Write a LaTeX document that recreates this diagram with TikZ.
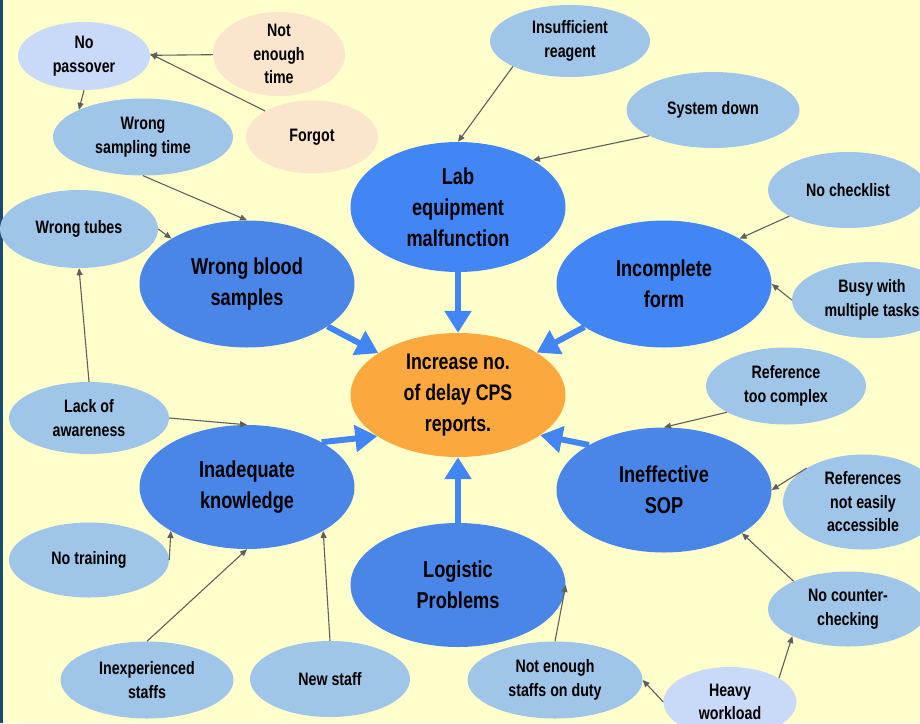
\documentclass[tikz,border=0pt]{standalone}
\usepackage{fontspec}
\setmainfont{Liberation Sans}[FakeStretch=0.79]
\usepackage{tikz}
\usetikzlibrary{shapes.geometric,arrows.meta}
\definecolor{paper}{HTML}{FFFFCC}
\definecolor{edgeblue}{HTML}{1C4A72}
\definecolor{rootorange}{HTML}{FBA83F}
\definecolor{mainblue}{HTML}{4A86E8}
\definecolor{brightblue}{HTML}{4285F4}
\definecolor{causeblue}{HTML}{9FC5E8}
\definecolor{paleblue}{HTML}{C9DAF8}
\definecolor{peach}{HTML}{FCE5CD}
\definecolor{linegray}{HTML}{5F5F5F}
\tikzset{
    root-box/.style = {ellipse, fill=rootorange, inner sep=0pt, minimum width=215pt, minimum height=124pt, align=center, font=\fontsize{22.5}{31}\selectfont\bfseries},
    main-box/.style = {ellipse, fill=mainblue, inner sep=0pt, minimum width=215pt, minimum height=127pt, align=center, font=\fontsize{23}{31}\selectfont\bfseries},
    cause-box/.style = {ellipse, fill=causeblue, inner sep=0pt, minimum width=160pt, minimum height=76pt, align=center, font=\fontsize{18}{23.5}\selectfont\bfseries},
    thick-arrow/.style = {draw=brightblue, line width=6pt, -{Triangle[length=22pt,width=26pt]}},
    thin-arrow/.style = {draw=linegray, line width=1.1pt, -{Triangle[length=7pt,width=6pt]}},
}
\begin{document}
\begin{tikzpicture}[x=1pt,y=-1pt]
\useasboundingbox (0,0) rectangle (920,723);
\clip (0,0) rectangle (920,723);
\fill[paper] (0,0) rectangle (920,723);
\fill[edgeblue] (0,0) rectangle (3,723);

\node[root-box] (root) at (458,395) {Increase no.\\of delay CPS\\reports.};

\node[main-box] (blood) at (247,284) {Wrong blood\\samples};
\node[main-box, fill=brightblue, minimum height=130pt] (lab) at (458,207) {Lab\\equipment\\malfunction};
\node[main-box, fill=brightblue] (form) at (664,284) {Incomplete\\form};
\node[main-box, minimum height=124pt] (know) at (247,487) {Inadequate\\knowledge};
\node[main-box, minimum height=125pt] (sop) at (664,490) {Ineffective\\SOP};
\node[main-box, minimum height=124pt] (logistic) at (458,585) {Logistic\\Problems};

\node[cause-box, fill=paleblue, minimum width=132pt, minimum height=68pt] (passover) at (84,56) {No\\passover};
\node[cause-box, fill=peach, minimum width=132pt, minimum height=72pt] (time) at (279,54) {Not\\enough\\time};
\node[cause-box, fill=peach, minimum width=132pt, minimum height=73pt] (forgot) at (312,137) {Forgot};
\node[cause-box, minimum width=180pt, minimum height=77pt] (sampling) at (143,137) {Wrong\\sampling time};
\node[cause-box, minimum width=158pt, minimum height=78pt] (tubes) at (79,229) {Wrong tubes};
\node[cause-box, minimum height=72pt] (awareness) at (89,418) {Lack of\\awareness};
\node[cause-box, minimum height=75pt] (training) at (89,560) {No training};
\node[cause-box, minimum width=173pt, minimum height=77pt] (inexp) at (147,680) {Inexperienced\\staffs};
\node[cause-box] (newstaff) at (330,679) {New staff};

\node[cause-box, minimum height=72pt] (reagent) at (570,41) {Insufficient\\reagent};
\node[cause-box, minimum width=173pt] (sysdown) at (713,110) {System down};
\node[cause-box] (checklist) at (848,190) {No checklist};
\node[cause-box] (busy) at (872,300) {Busy with\\multiple tasks};
\node[cause-box, minimum height=77pt] (refcomplex) at (786,386) {Reference\\too complex};
\node[cause-box, minimum height=95pt] (refaccess) at (863,502) {References\\not easily\\accessible};
\node[cause-box, minimum height=75pt] (counter) at (848,609) {No counter-\\checking};
\node[cause-box, fill=paleblue, minimum width=133pt, minimum height=70pt] (heavy) at (730,702) {Heavy\\workload};
\node[cause-box, minimum width=175pt, minimum height=77pt] (staffs) at (555,680) {Not enough\\staffs on duty};

\draw[thick-arrow] (lab) -- (root);
\draw[thick-arrow] (blood) -- (root);
\draw[thick-arrow] (form) -- (root);
\draw[thick-arrow] (know.31) -- (root.207);
\draw[thick-arrow] (sop.149) -- (root.334);
\draw[thick-arrow] (logistic) -- (root);

\draw[thin-arrow] (time) -- (passover);
\draw[thin-arrow] (forgot.151) -- (passover.2);
\draw[thin-arrow] (passover.south) -- (sampling.157);
\draw[thin-arrow] (sampling.south) -- (blood.north);
\draw[thin-arrow] (tubes.east) -- (blood.149);
\draw[thin-arrow] (awareness.north) -- (tubes.south);
\draw[thin-arrow] (awareness.east) -- (know.north);
\draw[thin-arrow] (training.east) -- (know.210);
\draw[thin-arrow] (inexp.north) -- (know.south);
\draw[thin-arrow] (newstaff.north) -- (know.330);

\draw[thin-arrow] (reagent.204) -- (lab.north);
\draw[thin-arrow] (sysdown.202) -- (lab.32);
\draw[thin-arrow] (checklist.204) -- (form.31);
\draw[thin-arrow] (busy.west) -- (form.east);
\draw[thin-arrow] (refcomplex.204) -- (sop.north);
\draw[thin-arrow] (refaccess.149) -- (sop.east);
\draw[thin-arrow] (counter.153) -- (sop.331);
\draw[thin-arrow] (heavy.26) -- (counter.206);
\draw[thin-arrow] (heavy.west) -- (staffs.east);
\draw[thin-arrow] (staffs.north) -- (logistic.east);
\end{tikzpicture}
\end{document}
